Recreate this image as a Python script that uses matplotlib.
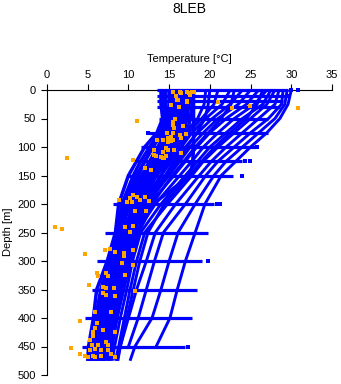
import numpy as np
import matplotlib
matplotlib.use("Agg")
import matplotlib.pyplot as plt

plt.rcParams['font.family'] = ['Liberation Sans', 'DejaVu Sans']

# ---- data ----
knot_depths = [0, 25, 50, 75, 100, 125, 150, 200, 250, 300, 350, 400, 450, 475]

cool_profiles = [
    [14.0, 14.0, 14.2, 13.5, 12.0, 11.0, 10.0, 8.8, 8.4, 7.4, 6.1, 5.7, 5.1, 5.0],
    [14.2, 14.3, 14.3, 13.8, 12.6, 11.5, 10.6, 9.2, 8.6, 7.8, 6.8, 5.9, 5.2, 5.0],
    [14.5, 14.6, 14.5, 14.0, 13.0, 12.0, 11.2, 9.6, 8.6, 7.6, 6.6, 6.0, 5.3, 5.1],
    [15.0, 15.0, 14.8, 14.2, 13.0, 12.0, 11.0, 9.5, 8.8, 8.0, 7.0, 6.2, 5.5, 5.3],
    [15.0, 15.1, 15.0, 14.6, 14.0, 13.3, 12.5, 10.8, 9.8, 8.9, 8.0, 7.2, 6.5, 6.2],
    [15.2, 15.3, 15.1, 14.6, 13.6, 12.6, 11.6, 9.9, 9.0, 8.2, 7.1, 6.3, 5.6, 5.4],
    [15.5, 15.6, 15.4, 14.8, 13.8, 12.8, 11.8, 10.0, 9.2, 8.5, 7.5, 6.6, 5.9, 5.6],
    [15.8, 15.8, 15.6, 15.2, 14.2, 13.2, 12.0, 10.2, 9.0, 8.3, 7.3, 6.4, 5.7, 5.4],
    [16.0, 16.0, 15.8, 15.3, 14.5, 13.4, 12.3, 10.5, 9.6, 8.8, 7.9, 7.0, 6.2, 5.9],
    [16.2, 16.2, 16.0, 15.6, 14.8, 13.8, 12.8, 10.8, 9.4, 8.2, 7.2, 6.5, 5.8, 5.5],
    [16.5, 16.5, 16.3, 15.8, 15.0, 14.0, 12.8, 11.0, 10.0, 9.1, 8.2, 7.3, 6.6, 6.3],
    [16.8, 16.8, 16.6, 16.0, 15.2, 14.3, 13.3, 11.6, 10.4, 9.2, 8.0, 7.2, 6.4, 6.1],
    [17.0, 17.0, 16.8, 16.3, 15.5, 14.5, 13.4, 11.5, 10.3, 9.4, 8.6, 7.7, 7.0, 6.6],
    [17.2, 17.2, 17.0, 16.4, 15.3, 14.2, 13.0, 11.2, 9.8, 8.6, 7.6, 6.8, 6.2, 5.9],
    [17.5, 17.4, 17.2, 16.8, 16.0, 15.0, 14.0, 12.0, 10.7, 9.8, 9.0, 8.1, 7.4, 7.0],
    [17.8, 17.8, 17.6, 17.2, 16.5, 15.6, 14.6, 12.5, 11.0, 9.9, 8.8, 7.9, 7.1, 6.8],
    [18.0, 18.0, 18.0, 18.0, 18.0, 17.9, 17.6, 13.0, 11.2, 10.2, 9.4, 8.5, 7.8, 7.5],
]

warm_profiles = [
    [30.0, 29.6, 28.6, 27.0, 25.0, 23.2, 21.4, 19.4, 18.2, 17.0, 16.0, 15.1, 13.4, np.nan],
    [29.5, 29.2, 28.0, 26.0, 24.0, 22.0, 20.5, 18.2, 16.1, 15.0, 14.0, 12.9, 10.8, 10.2],
    [29.0, 28.8, 27.2, 25.0, 23.0, 21.0, 19.5, 17.0, 14.3, 13.2, 12.2, 11.2, 10.0, np.nan],
    [28.5, 28.0, 26.0, 24.0, 22.0, 20.2, 18.7, 15.8, 13.3, 12.2, 11.0, 10.0, 9.0, 8.6],
    [28.0, 27.0, 25.0, 23.0, 21.0, 19.2, 17.8, 14.8, 12.0, 11.0, 10.2, 9.5, 8.8, 8.4],
    [27.5, 26.5, 24.0, 22.0, 20.0, 18.5, 17.0, 14.0, 11.5, 10.5, 9.8, 9.0, 8.3, 8.0],
    [27.0, 25.5, 23.0, 21.0, 19.2, 17.8, 16.3, 13.3, 11.0, 10.0, 9.3, 8.6, 8.0, 7.8],
    [26.5, 25.8, 24.5, 22.5, 20.6, 19.0, 17.4, 14.4, 12.4, 11.4, 10.6, 9.8, 9.0, 8.7],
    [26.0, 24.5, 22.0, 20.0, 18.4, 17.0, 15.6, 12.6, 10.6, 9.6, 8.9, 8.2, 7.6, 7.4],
    [25.0, 23.5, 21.0, 19.2, 17.6, 16.3, 15.0, 12.2, 10.3, 9.3, 8.6, 7.9, 7.3, 7.1],
    [24.0, 22.5, 20.3, 18.5, 17.0, 15.8, 14.5, 11.8, 10.0, 9.0, 8.3, 7.6, 7.0, 6.8],
    [23.0, 22.6, 21.4, 19.8, 18.2, 16.8, 15.4, 12.9, 11.2, 10.2, 9.4, 8.6, 7.9, 7.6],
    [22.5, 21.5, 19.5, 17.8, 16.5, 15.3, 14.0, 11.4, 9.8, 8.8, 8.1, 7.3, 6.8, 6.6],
    [21.0, 20.5, 19.0, 17.3, 16.0, 14.8, 13.5, 11.0, 9.5, 8.6, 7.8, 7.1, 6.5, 6.3],
    [20.0, 19.8, 19.4, 18.4, 17.2, 16.0, 14.8, 12.3, 10.6, 9.5, 8.7, 7.9, 7.2, 6.9],
    [19.5, 19.3, 18.5, 17.0, 15.6, 14.4, 13.2, 10.8, 9.3, 8.4, 7.6, 6.9, 6.3, 6.1],
]

h_depth = [0, 10, 20, 30, 50, 75, 100, 125, 150, 200, 250, 300, 350, 400, 450]
h_tmin = [13.5, 13.5, 13.5, 13.5, 13.8, 12.3, 11.6, 10.8, 9.9, 8.1, 7.1, 6.1, 5.5, 4.7, 4.3]
h_tmax = [29.6, 29.4, 29.0, 28.6, 27.2, 27.1, 25.5, 24.0, 22.8, 20.5, 19.8, 19.0, 18.4, 17.8, 16.9]

dot_temp = [30.0, 30.8, 29.7, 25.8, 24.3, 24.9, 23.9, 20.9, 21.3, 19.8, 17.3, 12.4]
dot_depth = [0, 0, 10, 100, 125, 125, 150, 200, 200, 300, 450, 76]

orange = [
    (15.5, 3), (16.5, 5), (17.4, 5), (17.6, 8), (18.0, 4), (15.8, 10), (16.1, 17.5), (17.2, 20.5),
    (15.2, 26), (16.2, 30), (16.3, 3), (17.2, 3), (17.8, 3), (17.2, 19), (16.0, 18),
    (21.0, 21), (22.7, 32), (24.9, 28), (30.8, 32),
    (11.0, 54), (15.5, 57), (15.5, 62), (15.6, 66), (16.7, 64), (15.7, 50),
    (14.7, 76), (15.5, 76), (16.3, 79), (17.1, 77), (14.9, 84), (15.2, 82), (15.5, 88), (16.5, 84),
    (13.5, 88), (14.3, 88), (14.9, 92), (15.2, 90),
    (14.6, 102), (14.9, 106), (15.6, 106), (16.5, 110), (14.2, 108), (13.1, 105), (13.1, 114),
    (13.4, 116), (14.0, 117), (14.2, 120), (14.6, 115), (14.4, 119), (10.6, 122), (2.4, 119),
    (12.0, 137), (12.8, 140),
    (10.6, 184), (10.2, 190), (10.4, 197), (9.8, 196), (11.0, 188), (11.4, 193), (12.0, 187),
    (12.5, 194), (8.8, 193), (10.8, 213), (12.1, 213),
    (9.6, 240), (10.6, 239), (1.0, 241), (1.9, 244), (10.2, 249),
    (4.7, 287), (7.1, 280), (7.7, 279), (8.4, 285), (9.4, 286), (9.4, 292), (10.6, 280),
    (9.2, 304), (10.6, 307),
    (6.1, 321), (6.3, 327), (7.3, 321), (7.5, 327), (9.6, 325), (5.1, 342), (6.9, 345),
    (7.2, 348), (8.2, 348), (8.4, 362), (6.9, 357), (7.2, 360), (10.8, 352),
    (7.9, 389), (5.9, 389), (4.0, 406), (6.1, 408), (5.9, 417), (5.7, 425), (5.7, 431),
    (6.9, 421), (8.4, 425),
    (5.3, 439), (5.5, 448), (6.3, 448), (7.3, 442), (7.5, 448), (3.0, 453), (5.3, 457),
    (5.9, 455), (6.6, 457), (7.5, 457),
    (4.0, 463), (4.7, 466), (5.0, 469), (5.9, 469), (6.6, 466), (8.4, 468), (5.7, 466), (7.9, 463),
]
orange_temp = [p[0] for p in orange]
orange_depth = [p[1] for p in orange]

x_ticks = [0, 5, 10, 15, 20, 25, 30, 35]
y_ticks = [0, 50, 100, 150, 200, 250, 300, 350, 400, 450, 500]

BLUE = '#0000FF'
ORANGE = '#FFA500'

# ---- figure ----
W, H = 341, 384
fig = plt.figure(figsize=(W / 100, H / 100), dpi=100)
ax = fig.add_axes([47 / W, 9 / H, 285 / W, 285 / H])

for prof in cool_profiles:
    ax.plot(prof, knot_depths, color=BLUE, lw=2.5, solid_capstyle='butt',
            solid_joinstyle='round', clip_on=False, zorder=2)
for prof in warm_profiles:
    ax.plot(prof, knot_depths, color=BLUE, lw=2.1, solid_capstyle='butt',
            solid_joinstyle='round', clip_on=False, zorder=2)
for d, t0, t1 in zip(h_depth, h_tmin, h_tmax):
    ax.plot([t0, t1], [d, d], color=BLUE, lw=2.3, solid_capstyle='butt', clip_on=False, zorder=2)
ax.plot(dot_temp, dot_depth, 's', color=BLUE, ms=2.4, mew=0, clip_on=False, zorder=2)
ax.plot(orange_temp, orange_depth, 's', color=ORANGE, ms=2.8, mew=0, clip_on=False, zorder=3)

ax.set_xlim(0, 35)
ax.set_ylim(500, 0)
ax.set_xticks(x_ticks)
ax.set_yticks(y_ticks)
ax.xaxis.tick_top()
ax.xaxis.set_label_position('top')
for s in ['right', 'bottom']:
    ax.spines[s].set_visible(False)
for s in ['top', 'left']:
    ax.spines[s].set_linewidth(0.8)
    ax.spines[s].set_zorder(1)
ax.tick_params(axis='x', direction='out', length=4, width=0.8, pad=3, labelsize=8)
ax.tick_params(axis='y', direction='out', length=4, width=0.8, pad=4, labelsize=8)
ax.set_xlabel('Temperature [°C]', fontsize=8, labelpad=6)

fig.text(189.5 / W, 1 - 9 / H, '8LEB', ha='center', va='center', fontsize=10)
fig.text(8 / W, 1 - 232 / H, 'Depth [m]', ha='center', va='center', rotation=90, fontsize=8)

fig.savefig('out.png', dpi=100)
